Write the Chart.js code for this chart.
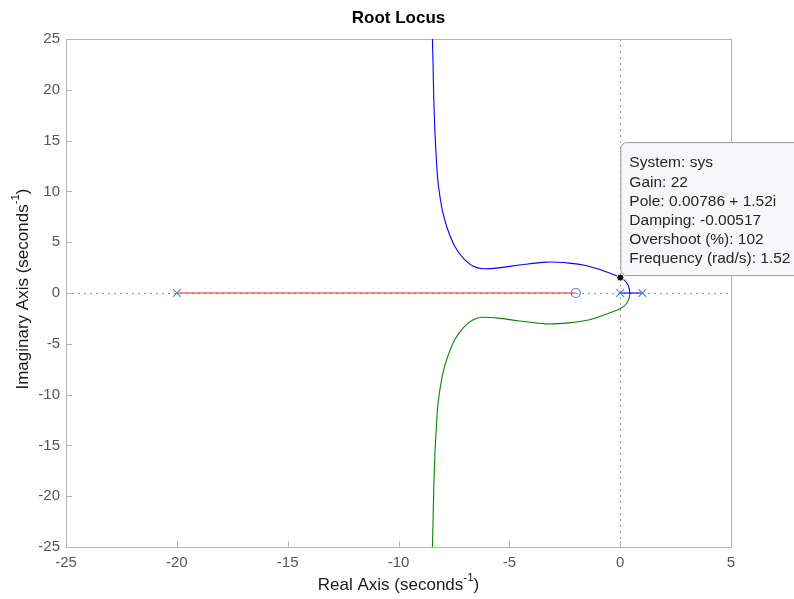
<!DOCTYPE html>
<html>
<head>
<meta charset="utf-8">
<title>Root Locus</title>
<script src="https://cdn.jsdelivr.net/npm/chart.js@4.4.1/dist/chart.umd.min.js"></script>
<style>
  html, body { margin: 0; padding: 0; background: #fff; }
  #wrap { width: 794px; height: 599px; }
</style>
</head>
<body>
<div id="wrap"><canvas id="rlocus" width="794" height="599"></canvas></div>
<script>
// axis ticks
const realTicks = [-25, -20, -15, -10, -5, 0, 5];
const imagTicks = [-25, -20, -15, -10, -5, 0, 5, 10, 15, 20, 25];

// open-loop poles and zero
const poleRe = [-20, 0, 1];
const poleIm = [0, 0, 0];
const zeroRe = [-2];
const zeroIm = [0];

// branch 1: real axis, pole -20 -> zero -2
const redRe = [-20, -2];
const redIm = [0, 0];

// branches 2 and 3: break away between 0 and 1, then go to the asymptotes
const blueRe = [0.43, 0.41, 0.33, 0.20, 0.008, -0.19, -0.80, -1.55, -2.30, -3.35, -4.55, -5.40, -6.20, -6.65, -7.05, -7.45, -7.78, -8.00, -8.13, -8.23, -8.30, -8.36, -8.41, -8.44, -8.47];
const blueIm = [0, 0.45, 0.88, 1.24, 1.52, 1.73, 2.22, 2.71, 2.94, 3.04, 2.75, 2.50, 2.39, 2.66, 3.35, 4.55, 6.25, 7.90, 9.50, 11.2, 13.5, 16.0, 19.3, 22.4, 25];
const greenRe = [0.43, 0.41, 0.33, 0.20, 0.008, -0.19, -0.80, -1.55, -2.30, -3.35, -4.55, -5.40, -6.20, -6.65, -7.05, -7.45, -7.78, -8.00, -8.13, -8.23, -8.30, -8.36, -8.41, -8.44, -8.47];
const greenIm = [0, -0.45, -0.88, -1.24, -1.52, -1.73, -2.22, -2.71, -2.94, -3.04, -2.75, -2.50, -2.39, -2.66, -3.35, -4.55, -6.25, -7.90, -9.50, -11.2, -13.5, -16.0, -19.3, -22.4, -25];

// real-axis piece between the poles at 0 and 1
const segRe = [0, 1];
const segIm = [0, 0];

// data tip
const tipRe = 0.00786;
const tipIm = 1.52;
const tipLines = [
    'System: sys',
    'Gain: 22',
    'Pole: 0.00786 + 1.52i',
    'Damping: -0.00517',
    'Overshoot (%): 102',
    'Frequency (rad/s): 1.52'
];

const FONT = '"Liberation Sans", Arial, Helvetica, sans-serif';
const AXIS_GRAY = '#b4b4b4';
const LABEL_GRAY = '#565656';
const MARK_BLUE = '#3f8fd8';

const pts = (xs, ys) => xs.map((x, i) => ({ x: x, y: ys[i] }));

const line = (xs, ys, color) => ({
    data: pts(xs, ys),
    showLine: true,
    borderColor: color,
    borderWidth: 1.1,
    pointRadius: 0,
    tension: 0.3,
    fill: false
});

// dotted zero lines, inner tick marks and the axes box
const frame = {
    id: 'frame',
    beforeDatasetsDraw(chart) {
        const { ctx, chartArea: a, scales: { x, y } } = chart;
        ctx.save();
        ctx.strokeStyle = '#999';
        ctx.lineWidth = 1;
        ctx.setLineDash([2, 4]);
        const y0 = Math.round(y.getPixelForValue(0)) + 0.5;
        const x0 = Math.round(x.getPixelForValue(0)) + 0.5;
        ctx.beginPath();
        ctx.moveTo(a.left, y0); ctx.lineTo(a.right, y0);
        ctx.moveTo(x0, a.top); ctx.lineTo(x0, a.bottom);
        ctx.stroke();
        ctx.setLineDash([]);

        ctx.strokeStyle = AXIS_GRAY;
        ctx.beginPath();
        ctx.rect(a.left + 0.5, a.top + 0.5, a.right - a.left, a.bottom - a.top);
        realTicks.forEach(v => {
            const px = Math.round(x.getPixelForValue(v)) + 0.5;
            ctx.moveTo(px, a.bottom); ctx.lineTo(px, a.bottom - 6);
        });
        imagTicks.forEach(v => {
            const py = Math.round(y.getPixelForValue(v)) + 0.5;
            ctx.moveTo(a.left, py); ctx.lineTo(a.left + 6, py);
        });
        ctx.stroke();
        ctx.restore();
    },
    afterDatasetsDraw(chart) {
        const { ctx, scales: { x, y } } = chart;
        const px = x.getPixelForValue(tipRe);
        const py = y.getPixelForValue(tipIm);

        // data tip box, anchored at the selected pole
        const bx = px + 0.5, by = py - 135, bw = 200, bh = 133, r = 6;
        ctx.save();
        ctx.beginPath();
        ctx.roundRect(bx, by, bw, bh, r);
        ctx.fillStyle = '#f7f7f9';
        ctx.fill();
        ctx.strokeStyle = '#9c9c9c';
        ctx.lineWidth = 1;
        ctx.stroke();

        ctx.fillStyle = '#262626';
        ctx.font = '15.5px ' + FONT;
        ctx.textBaseline = 'middle';
        ctx.textAlign = 'left';
        tipLines.forEach((t, i) => ctx.fillText(t, bx + 8.5, by + 20.5 + i * 19.2));

        // selected pole marker
        ctx.beginPath();
        ctx.arc(px, py, 3.5, 0, Math.PI * 2);
        ctx.fillStyle = '#111';
        ctx.fill();
        ctx.strokeStyle = '#e8e4b0';
        ctx.lineWidth = 1;
        ctx.stroke();
        ctx.restore();
    },
    afterDraw(chart) {
        const { ctx, chartArea: a } = chart;
        const cx = (a.left + a.right) / 2;
        ctx.save();
        ctx.fillStyle = '#000';
        ctx.textAlign = 'center';
        ctx.textBaseline = 'middle';
        ctx.font = 'bold 17px ' + FONT;
        ctx.fillText('Root Locus', cx, 18);

        // axis titles with the seconds^-1 unit
        const titleWithUnit = (name, ox, oy, rot) => {
            ctx.save();
            ctx.translate(ox, oy);
            ctx.rotate(rot);
            ctx.fillStyle = '#1a1a1a';
            ctx.textAlign = 'left';
            ctx.textBaseline = 'middle';
            const big = '17px ' + FONT, small = '11.5px ' + FONT;
            const p1 = name + ' (seconds', p2 = '-1', p3 = ')';
            ctx.font = big;
            const w1 = ctx.measureText(p1).width, w3 = ctx.measureText(p3).width;
            ctx.font = small;
            const w2 = ctx.measureText(p2).width;
            let sx = -(w1 + w2 + w3) / 2;
            ctx.font = big;
            ctx.fillText(p1, sx, 0);
            ctx.font = small;
            ctx.fillText(p2, sx + w1, -7);
            ctx.font = big;
            ctx.fillText(p3, sx + w1 + w2, 0);
            ctx.restore();
        };
        titleWithUnit('Real Axis', cx, 585, 0);
        titleWithUnit('Imaginary Axis', 23, (a.top + a.bottom) / 2 - 4, -Math.PI / 2);
        ctx.restore();
    }
};

new Chart(document.getElementById('rlocus'), {
    type: 'scatter',
    data: {
        datasets: [
            {
                data: pts(poleRe, poleIm),
                pointStyle: 'crossRot',
                pointRadius: 5.5,
                borderColor: MARK_BLUE,
                borderWidth: 1.2,
                showLine: false
            },
            {
                data: pts(zeroRe, zeroIm),
                pointStyle: 'circle',
                pointRadius: 4.5,
                borderColor: MARK_BLUE,
                backgroundColor: 'rgba(0,0,0,0)',
                borderWidth: 1.2,
                showLine: false
            },
            Object.assign(line(segRe, segIm, '#0000ff'), { tension: 0 }),
            line(greenRe, greenIm, '#008a00'),
            line(blueRe, blueIm, '#0000ff'),
            Object.assign(line(redRe, redIm, '#ff2020'), { tension: 0 })
        ]
    },
    options: {
        responsive: false,
        animation: false,
        layout: { padding: { left: 0, top: 39, right: 63, bottom: 0 } },
        plugins: {
            legend: { display: false },
            tooltip: { enabled: false },
            title: { display: false }
        },
        scales: {
            x: {
                type: 'linear',
                min: -25,
                max: 5,
                afterBuildTicks: s => { s.ticks = realTicks.map(v => ({ value: v })); },
                afterFit: s => { s.height = 52; },
                grid: { display: false, drawTicks: false, tickLength: 0 },
                border: { display: false },
                ticks: { color: LABEL_GRAY, font: { family: FONT, size: 15 }, padding: 7, maxRotation: 0 }
            },
            y: {
                type: 'linear',
                min: -25,
                max: 25,
                afterBuildTicks: s => { s.ticks = imagTicks.map(v => ({ value: v })); },
                afterFit: s => { s.width = 66; },
                grid: { display: false, drawTicks: false, tickLength: 0 },
                border: { display: false },
                ticks: { color: LABEL_GRAY, font: { family: FONT, size: 15 }, padding: 6 }
            }
        }
    },
    plugins: [frame]
});
</script>
</body>
</html>
